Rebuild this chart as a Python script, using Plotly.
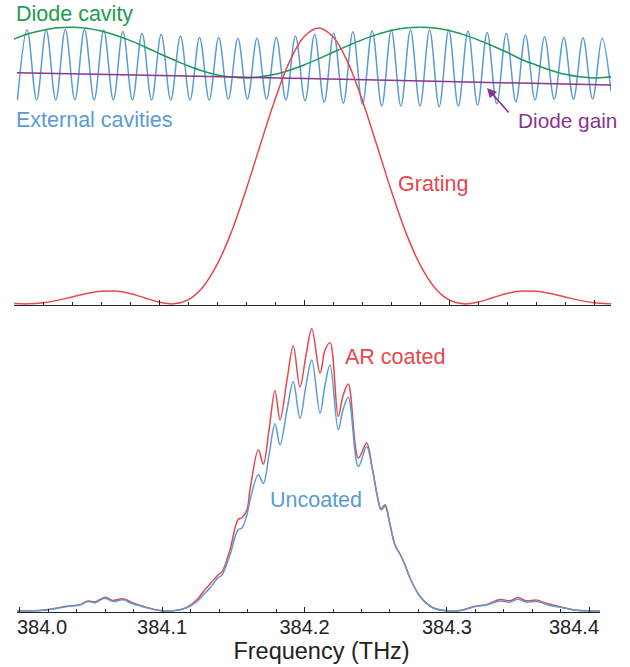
import plotly.graph_objects as go

W, H = 630, 667
FONT = "Liberation Sans, Arial, sans-serif"
GREEN = "#1f9a52"
BLUE = "#5b9bd5"
RED = "#e5484d"
PURPLE = "#8a3590"
AXIS = "#222222"

# ---------------- top panel data ----------------
grating_f = [384.00, 384.01, 384.02, 384.03, 384.04, 384.05, 384.06, 384.07, 384.08, 384.09,
             384.10, 384.11, 384.12, 384.13, 384.14, 384.15, 384.16, 384.17, 384.18, 384.19,
             384.20, 384.21, 384.22, 384.23, 384.24, 384.25, 384.26, 384.27, 384.28, 384.29,
             384.30, 384.31, 384.32, 384.33, 384.34, 384.35, 384.36, 384.37, 384.38, 384.39,
             384.40, 384.41, 384.412]
grating_v = [0.0014, 0.0001, 0.0038, 0.0128, 0.0252, 0.0376, 0.0458, 0.0463, 0.0377, 0.0223,
             0.0065, 0.0001, 0.0143, 0.0595, 0.142, 0.262, 0.413, 0.579, 0.741, 0.878,
             0.968, 1.0, 0.968, 0.878, 0.741, 0.579, 0.413, 0.262, 0.142, 0.0595,
             0.0143, 0.0001, 0.0065, 0.0223, 0.0377, 0.0463, 0.0458, 0.0376, 0.0252, 0.0128,
             0.0038, 0.0003, 0.0003]

diode_cav_f = [384.00, 384.01, 384.02, 384.03, 384.04, 384.05, 384.06, 384.07, 384.08, 384.09,
               384.10, 384.11, 384.12, 384.13, 384.14, 384.15, 384.16, 384.17, 384.18, 384.19,
               384.20, 384.21, 384.22, 384.23, 384.24, 384.25, 384.26, 384.27, 384.28, 384.29,
               384.30, 384.31, 384.32, 384.33, 384.34, 384.35, 384.36, 384.37, 384.38, 384.39,
               384.40, 384.41, 384.412]
diode_cav_v = [0.960, 0.979, 0.992, 1.001, 1.003, 0.999, 0.989, 0.974, 0.955, 0.932,
               0.908, 0.885, 0.863, 0.844, 0.830, 0.822, 0.819, 0.823, 0.832, 0.847,
               0.866, 0.888, 0.912, 0.935, 0.957, 0.976, 0.991, 1.000, 1.003, 1.000,
               0.991, 0.976, 0.957, 0.935, 0.912, 0.886, 0.866, 0.847, 0.832, 0.823,
               0.819, 0.822, 0.823]

diode_gain_f = [384.002, 384.101, 384.200, 384.298, 384.412]
diode_gain_v = [0.838, 0.828, 0.817, 0.806, 0.793]

ext_peak_f = [384.0090, 384.0222, 384.0354, 384.0486, 384.0619, 384.0751, 384.0883, 384.1015,
              384.1148, 384.1280, 384.1412, 384.1544, 384.1676, 384.1809, 384.1941, 384.2073,
              384.2205, 384.2337, 384.2470, 384.2602, 384.2734, 384.2866, 384.2998, 384.3131,
              384.3263, 384.3395, 384.3527, 384.3659, 384.3792, 384.3924, 384.4056]
ext_peak_v = [0.994, 0.994, 0.995, 0.995, 0.993, 0.987, 0.981, 0.977, 0.971, 0.966, 0.966,
              0.963, 0.963, 0.966, 0.971, 0.977, 0.981, 0.986, 0.990, 0.993, 0.993, 0.993,
              0.993, 0.989, 0.984, 0.981, 0.975, 0.968, 0.966, 0.965, 0.963]
ext_trough_f = [384.0024, 384.0156, 384.0288, 384.0420, 384.0553, 384.0685, 384.0817, 384.0949,
                384.1081, 384.1214, 384.1346, 384.1478, 384.1610, 384.1742, 384.1875, 384.2007,
                384.2139, 384.2271, 384.2403, 384.2536, 384.2668, 384.2800, 384.2932, 384.3064,
                384.3197, 384.3329, 384.3461, 384.3593, 384.3725, 384.3858, 384.3990, 384.4117]
ext_trough_v = [0.739, 0.739, 0.739, 0.739, 0.739, 0.739, 0.739, 0.739, 0.739, 0.739, 0.739,
                0.742, 0.742, 0.742, 0.739, 0.736, 0.731, 0.727, 0.724, 0.717, 0.717, 0.717,
                0.715, 0.717, 0.720, 0.725, 0.733, 0.739, 0.742, 0.742, 0.743, 0.770]

# ---------------- bottom panel data ----------------
out_f = [383.9982, 384.0165, 384.0333, 384.0425, 384.0481, 384.0530, 384.0600, 384.0656,
         384.0726, 384.0796, 384.0895, 384.0986, 384.1077, 384.1175, 384.1246, 384.1288,
         384.1337, 384.1393, 384.1421, 384.1477, 384.1533, 384.1561, 384.1596, 384.1618,
         384.1676, 384.1711, 384.1751, 384.1793, 384.1828, 384.1877, 384.1921, 384.1968,
         384.2011, 384.2051, 384.2109, 384.2144, 384.2179, 384.2237, 384.2270, 384.2307,
         384.2378, 384.2436, 384.2474, 384.2516, 384.2537, 384.2565, 384.2600, 384.2635,
         384.2677, 384.2705, 384.2740, 384.2811, 384.2902, 384.3000, 384.3091, 384.3196,
         384.3281, 384.3372, 384.3442, 384.3498, 384.3554, 384.3632, 384.3709, 384.3793,
         384.3884, 384.3989, 384.4074]
uncoated_v = [0.0, 0.002, 0.015, 0.021, 0.033, 0.029, 0.045, 0.033,
              0.039, 0.025, 0.011, 0.001, 0.0, 0.011, 0.033, 0.056,
              0.081, 0.117, 0.127, 0.198, 0.286, 0.293, 0.340, 0.392,
              0.481, 0.451, 0.551, 0.661, 0.587, 0.710, 0.810, 0.681,
              0.799, 0.887, 0.699, 0.799, 0.869, 0.640, 0.710, 0.755,
              0.510, 0.581, 0.505, 0.392, 0.357, 0.369, 0.304, 0.233,
              0.194, 0.163, 0.117, 0.051, 0.011, 0.0, 0.001, 0.015,
              0.021, 0.035, 0.031, 0.041, 0.031, 0.033, 0.021, 0.013,
              0.004, 0.0, 0.0]
ar_coated_v = [0.0, 0.002, 0.016, 0.022, 0.035, 0.032, 0.048, 0.037,
               0.043, 0.028, 0.012, 0.001, 0.0, 0.013, 0.040, 0.067,
               0.095, 0.127, 0.138, 0.216, 0.322, 0.329, 0.357, 0.430,
               0.569, 0.519, 0.640, 0.778, 0.675, 0.816, 0.936, 0.791,
               0.905, 0.997, 0.840, 0.922, 0.948, 0.687, 0.760, 0.802,
               0.540, 0.593, 0.510, 0.395, 0.360, 0.375, 0.306, 0.233,
               0.194, 0.163, 0.117, 0.051, 0.011, 0.0, 0.001, 0.016,
               0.023, 0.040, 0.036, 0.047, 0.036, 0.038, 0.025, 0.015,
               0.004, 0.0, 0.0]

tick_vals = [384.0, 384.1, 384.2, 384.3, 384.4]
tick_labels = ["384.0", "384.1", "384.2", "384.3", "384.4"]

# build external-cavity path from extrema
ext_pts = sorted(list(zip(ext_peak_f, ext_peak_v)) + list(zip(ext_trough_f, ext_trough_v)))
ext_f = [p[0] for p in ext_pts]
ext_v = [p[1] for p in ext_pts]

fig = go.Figure()
lw = 1.5
fig.add_trace(go.Scatter(x=ext_f, y=ext_v, mode="lines", line=dict(color=BLUE, width=lw, shape="spline", smoothing=1.0),
                         xaxis="x", yaxis="y", name="External cavities"))
fig.add_trace(go.Scatter(x=diode_cav_f, y=diode_cav_v, mode="lines", line=dict(color=GREEN, width=lw, shape="spline"),
                         xaxis="x", yaxis="y", name="Diode cavity"))
fig.add_trace(go.Scatter(x=diode_gain_f, y=diode_gain_v, mode="lines", line=dict(color=PURPLE, width=lw, shape="spline"),
                         xaxis="x", yaxis="y", name="Diode gain"))
fig.add_trace(go.Scatter(x=grating_f, y=grating_v, mode="lines", line=dict(color=RED, width=lw, shape="spline"),
                         xaxis="x", yaxis="y", name="Grating"))
fig.add_trace(go.Scatter(x=out_f, y=ar_coated_v, mode="lines", line=dict(color=RED, width=lw, shape="spline", smoothing=1.0),
                         xaxis="x2", yaxis="y2", name="AR coated"))
fig.add_trace(go.Scatter(x=out_f, y=uncoated_v, mode="lines", line=dict(color=BLUE, width=lw, shape="spline", smoothing=1.0),
                         xaxis="x2", yaxis="y2", name="Uncoated"))

def px_x(p):
    return p / W

def px_y(p):
    return (H - p) / H

axis_common = dict(showline=True, linecolor=AXIS, linewidth=1.3, ticks="inside", tickcolor=AXIS,
                   tickwidth=1, ticklen=5, showgrid=False, zeroline=False, automargin=False,
                   minor=dict(dtick=0.02, ticks="inside", ticklen=3, tickcolor=AXIS, tickwidth=1, showgrid=False))

# middle labels on the axis itself; the two end labels are nudged inward like the reference
mid_text = ["" if i in (0, len(tick_labels) - 1) else t for i, t in enumerate(tick_labels)]

fig.update_layout(
    width=W, height=H, margin=dict(l=0, r=0, t=0, b=0),
    paper_bgcolor="white", plot_bgcolor="white", showlegend=False,
    font=dict(family=FONT, color=AXIS),
    xaxis=dict(domain=[px_x(14), px_x(611)], range=[384.0, 384.4117], anchor="y",
               tick0=384.0, dtick=0.1, showticklabels=False, **axis_common),
    yaxis=dict(domain=[px_y(305), px_y(20)], range=[-0.004, 1.029], visible=False),
    xaxis2=dict(domain=[px_x(17), px_x(600)], range=[383.9982, 384.4074], anchor="y2",
                tickmode="array", tickvals=tick_vals, ticktext=mid_text, ticklabelstandoff=-3,
                tickfont=dict(size=20, family=FONT, color=AXIS),
                title=dict(text="\u200b" + "\u00a0" * 4 + "Frequency (THz)",
                           font=dict(size=23.5, family=FONT, color=AXIS), standoff=0),
                **axis_common),
    yaxis2=dict(domain=[px_y(612), px_y(320)], range=[-0.004, 1.028], visible=False),
)

# end tick labels, placed on the axis scale
fig.add_annotation(text=tick_labels[0], x=tick_vals[0], xref="x2", y=px_y(627), yref="paper",
                   xanchor="left", yanchor="middle", xshift=-5, showarrow=False,
                   font=dict(size=20, family=FONT, color=AXIS))
fig.add_annotation(text=tick_labels[-1], x=tick_vals[-1], xref="x2", y=px_y(627), yref="paper",
                   xanchor="right", yanchor="middle", xshift=12, showarrow=False,
                   font=dict(size=20, family=FONT, color=AXIS))

anns = [
    dict(text="Diode cavity", x=px_x(14), y=px_y(14), color=GREEN, size=21.5),
    dict(text="External cavities", x=px_x(14), y=px_y(120), color=BLUE, size=21.5),
    dict(text="Diode gain", x=px_x(516), y=px_y(120), color=PURPLE, size=20.8),
    dict(text="Grating", x=px_x(396), y=px_y(184), color=RED, size=21.5),
    dict(text="AR coated", x=px_x(343), y=px_y(357), color=RED, size=21.5),
    dict(text="Uncoated", x=px_x(268), y=px_y(500), color=BLUE, size=21.5),
]
for a in anns:
    fig.add_annotation(text=a["text"], x=a["x"], y=a["y"], xref="paper", yref="paper",
                       xanchor="left", yanchor="middle", showarrow=False,
                       font=dict(family=FONT, size=a["size"], color=a["color"]))

# arrow for diode gain
fig.add_annotation(x=384.3262, y=0.7826, xref="x", yref="y", ax=23, ay=26, text="",
                   showarrow=True, arrowhead=2, arrowsize=1.2, arrowwidth=1.6, arrowcolor=PURPLE)

fig.write_html("out.html", config={"displayModeBar": False},
               post_script="document.body.style.margin='0';document.body.style.padding='0';")
